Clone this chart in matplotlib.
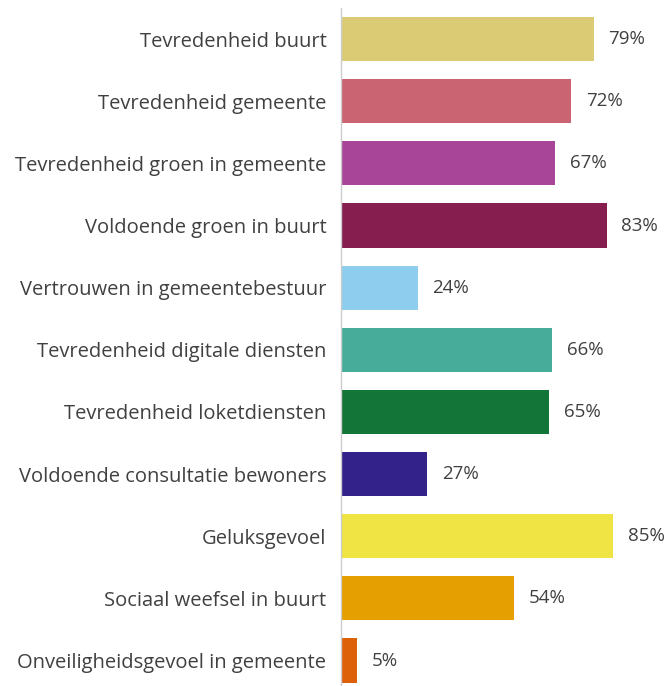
import matplotlib.pyplot as plt

labels = [
    "Tevredenheid buurt",
    "Tevredenheid gemeente",
    "Tevredenheid groen in gemeente",
    "Voldoende groen in buurt",
    "Vertrouwen in gemeentebestuur",
    "Tevredenheid digitale diensten",
    "Tevredenheid loketdiensten",
    "Voldoende consultatie bewoners",
    "Geluksgevoel",
    "Sociaal weefsel in buurt",
    "Onveiligheidsgevoel in gemeente",
]
values = [79, 72, 67, 83, 24, 66, 65, 27, 85, 54, 5]
colors = [
    "#dccb75", "#cb6472", "#a84599", "#861f4f", "#8fcdee", "#47ad9a",
    "#137638", "#33228a", "#efe444", "#e59f00", "#dd6108",
]

plt.rcParams['font.family'] = ['Open Sans', 'DejaVu Sans']

fig = plt.figure(figsize=(6.7, 6.86), dpi=100)
ax = fig.add_axes([341 / 670, 0, 320 / 670, 678 / 686])

y = list(range(len(values)))
ax.barh(y, values, height=0.71, color=colors, edgecolor='none')
for i, v in enumerate(values):
    ax.text(v + 4.6, i, f"{v}%", va='center', ha='left', fontsize=13.5, color='#404040')

ax.set_xlim(0, 100)
ax.set_ylim(10.41, -0.5)
ax.set_yticks(y)
ax.set_yticklabels(labels, fontsize=14.5, color='#404040')
ax.tick_params(axis='y', length=0, pad=10.5)
ax.set_xticks([])
for s in ['top', 'right', 'bottom']:
    ax.spines[s].set_visible(False)
ax.spines['left'].set_color('#cccccc')
ax.spines['left'].set_linewidth(1)

fig.savefig('out.png', dpi=100)
